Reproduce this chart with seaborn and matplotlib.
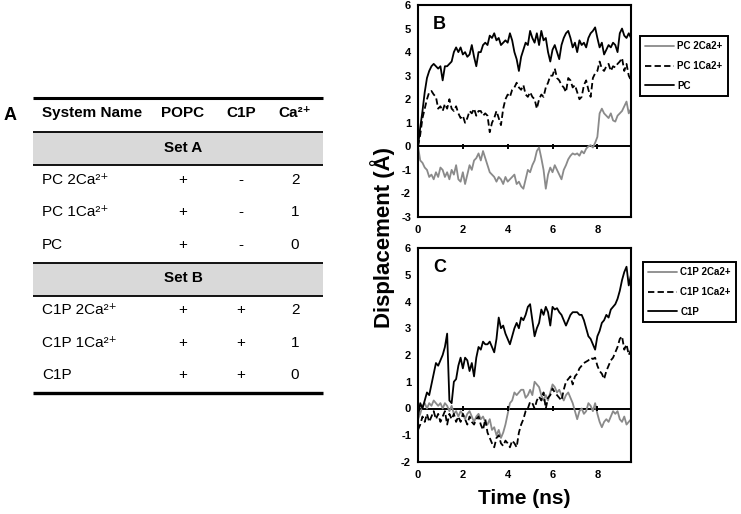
import matplotlib
matplotlib.use("Agg")
import matplotlib.pyplot as plt
from matplotlib.patches import Rectangle
import numpy as np
import seaborn as sns

# time axis, 0.1 ns steps
time_ns = np.round(np.arange(96) * 0.1, 1)

# panel B (PC systems)
pc_2ca = [0, -0.6, -0.7, -0.9, -1.0, -1.3, -1.2, -1.4, -1.1, -1.3,
          -0.9, -1.0, -1.3, -1.1, -1.4, -1.0, -1.2, -0.8, -1.4, -1.5,
          -1.1, -1.6, -1.2, -0.8, -1.0, -0.6, -0.5, -0.3, -0.6, -0.2,
          -0.5, -0.8, -1.1, -1.2, -1.3, -1.5, -1.3, -1.4, -1.6, -1.3,
          -1.5, -1.4, -1.3, -1.2, -1.6, -1.5, -1.7, -1.8, -1.4, -1.0,
          -1.1, -0.8, -0.6, -0.2, -0.05, -0.5, -1.0, -1.8, -1.2, -0.9,
          -1.1, -0.8, -1.0, -1.2, -1.4, -1.0, -0.8, -0.55, -0.4, -0.3,
          -0.35, -0.3, -0.4, -0.2, -0.3, -0.1, 0.0, 0.05, -0.05, 0.15,
          0.4, 1.4, 1.6, 1.4, 1.3, 1.2, 1.4, 1.1, 1.05, 1.3,
          1.4, 1.5, 1.7, 1.9, 1.4, 1.6]
pc_1ca = [0, 0.5, 1.2, 1.6, 2.0, 2.3, 2.35, 2.2, 2.1, 1.6,
          1.7, 1.5, 1.8, 1.6, 2.0, 1.6, 1.5, 1.7, 1.4, 1.2,
          1.3, 1.0, 1.2, 1.5, 1.4, 1.6, 1.3, 1.5, 1.5, 1.3,
          1.4, 1.3, 0.6, 1.0, 1.2, 1.5, 1.2, 0.9, 1.6, 2.0,
          2.2, 2.1, 2.4, 2.5, 2.7, 2.5, 2.4, 2.6, 2.2, 2.1,
          2.3, 2.1, 2.0, 1.6, 2.0, 2.2, 2.1, 2.5, 2.7, 3.0,
          3.0, 3.3, 2.9, 2.8, 2.6, 2.5, 2.3, 2.9, 2.8, 2.5,
          2.6, 2.3, 2.0, 2.1, 2.6, 2.8, 2.4, 2.1, 2.9, 3.1,
          3.2, 3.6, 3.3, 3.2, 3.4, 3.5, 3.2, 3.4, 3.35, 3.5,
          3.6, 3.75, 3.2, 3.5, 3.0, 2.8]
pc_0ca = [0, 0.8, 1.5, 2.3, 2.9, 3.2, 3.4, 3.5, 3.4, 3.3,
          3.4, 2.8, 3.4, 3.4, 3.5, 3.6, 4.0, 4.2, 4.0, 4.2,
          3.9, 4.0, 3.8, 3.9, 4.3, 3.8, 3.4, 4.0, 4.0, 4.3,
          4.4, 4.3, 4.7, 4.6, 4.8, 4.5, 4.6, 4.3, 4.4, 4.5,
          4.4, 4.8, 4.5, 4.0, 3.7, 3.2, 3.8, 4.1, 4.4, 4.3,
          4.9, 4.6, 4.4, 4.8, 4.3, 4.9, 4.5, 4.6, 4.0, 3.6,
          4.1, 4.3, 4.0, 3.7, 4.3, 4.6, 4.8, 4.9, 4.6, 4.2,
          4.4, 4.0, 4.5, 4.3, 4.4, 4.2, 4.6, 4.8, 4.9, 5.05,
          4.6, 4.2, 4.4, 3.9, 4.1, 4.3, 4.2, 4.4, 4.3, 4.0,
          4.8, 5.0, 4.7, 4.6, 4.8, 4.6]

# panel C (C1P systems)
c1p_2ca = [-0.4, -0.2, 0.1, 0.2, 0.0, 0.2, 0.1, 0.3, 0.2, 0.1,
           0.2, 0.0, 0.2, 0.1, -0.1, 0.1, -0.2, -0.1, -0.3, -0.1,
           -0.2, -0.4, -0.2, -0.1, -0.3, -0.5, -0.3, -0.2, -0.4, -0.3,
           -0.5, -0.6, -0.4, -0.8, -0.7, -1.0, -0.8, -1.1, -0.9, -0.6,
           -0.2, 0.2, 0.3, 0.6, 0.5, 0.6, 0.7, 0.7, 0.4, 0.5,
           0.7, 0.5, 1.0, 0.9, 0.8, 0.5, 0.3, 0.5, 0.3, 0.6,
           0.9, 0.8, 0.6, 0.7, 0.5, 0.3, 0.5, 0.6, 0.4, 0.2,
           -0.1, -0.4, -0.1, 0.0, -0.2, -0.1, 0.2, 0.1, -0.1, 0.2,
           -0.2, -0.5, -0.7, -0.5, -0.4, -0.5, -0.3, -0.1, -0.2, -0.1,
           -0.4, -0.5, -0.3, -0.6, -0.5, -0.4]
c1p_1ca = [-0.8, -0.6, -0.3, -0.5, -0.2, -0.5, -0.3, -0.1, -0.4, -0.2,
           -0.5, -0.3, -0.1, -0.6, -0.2, -0.4, -0.2, -0.5, -0.3, -0.5,
           -0.2, -0.4, -0.6, -0.3, -0.5, -0.6, -0.4, -0.3, -0.6, -0.8,
           -0.4, -0.9, -1.1, -1.3, -1.45, -1.1, -1.0, -1.3, -1.4, -1.2,
           -1.3, -1.45, -1.2, -1.3, -1.45, -0.9, -0.6, -0.4, -0.1, 0.0,
           0.25, 0.2, 0.0, 0.3, 0.45, 0.3, 0.6, 0.0, 0.4, 0.5,
           0.75, 0.6, 0.5, 0.4, 0.3, 0.7, 1.0, 1.1, 1.2, 0.9,
           1.2, 1.3, 1.5, 1.6, 1.7, 1.75, 1.8, 1.9, 1.85, 1.9,
           1.6, 1.4, 1.3, 1.1, 1.4, 1.6, 1.8, 1.9, 2.1, 2.3,
           2.6, 2.7, 2.2, 2.4, 2.0, 2.2]
c1p_0ca = [-0.3, 0.2, 0.0, 0.3, 0.6, 0.5, 0.9, 1.3, 1.7, 1.6,
           1.8, 2.0, 2.3, 2.8, 0.3, 0.2, 1.0, 1.1, 1.6, 1.9,
           1.5, 1.9, 1.8, 1.4, 1.7, 1.2, 1.9, 2.3, 2.2, 2.5,
           2.4, 2.4, 2.5, 2.3, 2.1, 2.6, 3.4, 3.0, 3.1, 2.8,
           2.6, 2.4, 2.7, 3.0, 3.2, 3.0, 3.4, 3.3, 3.5, 3.8,
           3.9, 3.3, 2.7, 3.0, 3.2, 3.7, 3.5, 3.8, 3.6, 3.1,
           3.8, 3.7, 3.75, 3.6, 3.5, 3.3, 3.1, 3.3, 3.5, 3.6,
           3.6, 3.6, 3.5, 3.5, 3.3, 3.0, 2.7, 2.6, 2.4, 2.2,
           2.7, 2.9, 3.2, 3.3, 3.5, 3.4, 3.7, 3.8, 3.9, 4.1,
           4.4, 4.8, 5.1, 5.3, 4.6, 5.0]

labels_b = ["PC 2Ca2+", "PC 1Ca2+", "PC"]
labels_c = ["C1P 2Ca2+", "C1P 1Ca2+", "C1P"]

# table contents
table_header = ["System Name", "POPC", "C1P", "Ca²⁺"]
set_names = ["Set A", "Set B"]
rows_a = [["PC 2Ca²⁺", "+", "-", "2"],
          ["PC 1Ca²⁺", "+", "-", "1"],
          ["PC", "+", "-", "0"]]
rows_b = [["C1P 2Ca²⁺", "+", "+", "2"],
          ["C1P 1Ca²⁺", "+", "+", "1"],
          ["C1P", "+", "+", "0"]]

sns.set_style("white")
plt.rcParams['font.family'] = ['Liberation Sans', 'DejaVu Sans']
plt.rcParams['axes.unicode_minus'] = False
for k in ['text.color', 'xtick.color', 'ytick.color', 'axes.labelcolor']:
    plt.rcParams[k] = 'black'

fig = plt.figure(figsize=(7.41, 5.14), dpi=100)

# ---- table (panel A), drawn in pixel coords on a full-figure axes
tab = fig.add_axes([0, 0, 1, 1])
tab.set_xlim(0, 741)
tab.set_ylim(514, 0)
tab.axis('off')

x0, x1 = 33, 323
col_x = [42, 183, 241, 295]
fs = 11
tab.add_patch(Rectangle((x0, 132), x1 - x0, 33, color='#d9d9d9', lw=0))
tab.add_patch(Rectangle((x0, 263), x1 - x0, 33, color='#d9d9d9', lw=0))
for y, lw in [(98, 2.2), (132, 1.3), (165, 1.3), (263, 1.3), (296, 1.3), (393, 2.4)]:
    tab.plot([x0, x1], [y, y], color='black', lw=lw, solid_capstyle='butt')

for i, h in enumerate(table_header):
    tab.text(col_x[i], 113, h, fontsize=fs, fontweight='bold',
             ha='left' if i == 0 else 'center', va='center')
tab.text(183, 148, set_names[0], fontsize=fs, fontweight='bold', ha='center', va='center')
tab.text(183, 278, set_names[1], fontsize=fs, fontweight='bold', ha='center', va='center')
for rows, ys in [(rows_a, [180, 212, 245]), (rows_b, [310, 343, 375])]:
    for row, y in zip(rows, ys):
        for i, cell in enumerate(row):
            tab.text(col_x[i], y, cell, fontsize=fs, ha='left' if i == 0 else 'center',
                     va='center')
tab.text(10, 115, "A", fontsize=13, fontweight='bold', ha='center', va='center')

# ---- line panels
gray = '#8a8a8a'
dash = (0, (3.5, 1.8))


def draw_panel(ax, series, labels, ylim, yticks, letter, legend_pos):
    styles = [dict(color=gray, linestyle='-'),
              dict(color='black', linestyle=dash),
              dict(color='black', linestyle='-')]
    for vals, lab, st in zip(series, labels, styles):
        sns.lineplot(x=time_ns, y=vals, ax=ax, label=lab, lw=1.3, **st)
    ax.axhline(0, color='black', lw=1.4, zorder=1)
    xt = [0, 2, 4, 6, 8]
    ax.vlines(xt[1:], -0.1 * (ylim[1] - ylim[0]) / 9, 0.1 * (ylim[1] - ylim[0]) / 9,
              color='black', lw=1.4)
    ax.set_xlim(0, 9.5)
    ax.set_ylim(*ylim)
    ax.set_xticks(xt)
    ax.set_yticks(yticks)
    ax.tick_params(axis='x', length=0, labelsize=8, pad=6)
    ax.tick_params(axis='y', direction='in', length=3, width=1, labelsize=8, pad=5)
    for lab in ax.get_xticklabels() + ax.get_yticklabels():
        lab.set_fontweight('bold')
    for sp in ax.spines.values():
        sp.set_linewidth(1.5)
        sp.set_color('black')
        sp.set_visible(True)
    ax.set_xlabel('')
    ax.set_ylabel('')
    ax.text(0.1, 0.91, letter, transform=ax.transAxes, fontsize=13, fontweight='bold',
            ha='center', va='center')
    leg = ax.legend(loc='upper left', bbox_to_anchor=legend_pos,
                    bbox_transform=fig.transFigure, prop=dict(size=7, weight='bold'),
                    frameon=True, fancybox=False, framealpha=1, edgecolor='black',
                    handlelength=2.9, handletextpad=0.4, labelspacing=1.0,
                    borderpad=0.55, borderaxespad=0)
    leg.get_frame().set_linewidth(1.4)


ax_b = fig.add_axes([418 / 741, 1 - 217 / 514, 213 / 741, 212 / 514])
draw_panel(ax_b, [pc_2ca, pc_1ca, pc_0ca], labels_b, (-3, 6), range(-3, 7), "B",
           (640 / 741, 1 - 36 / 514))

ax_c = fig.add_axes([418 / 741, 1 - 462 / 514, 213 / 741, 214 / 514])
draw_panel(ax_c, [c1p_2ca, c1p_1ca, c1p_0ca], labels_c, (-2, 6), range(-2, 7), "C",
           (643 / 741, 1 - 262 / 514))

fig.text(383 / 741, 1 - 237 / 514, "Displacement (Å)", rotation=90, fontsize=16,
         fontweight='bold', ha='center', va='center')
fig.text(524 / 741, 1 - 499 / 514, "Time (ns)", fontsize=15, fontweight='bold',
         ha='center', va='center')

fig.savefig("out.png", dpi=100)
